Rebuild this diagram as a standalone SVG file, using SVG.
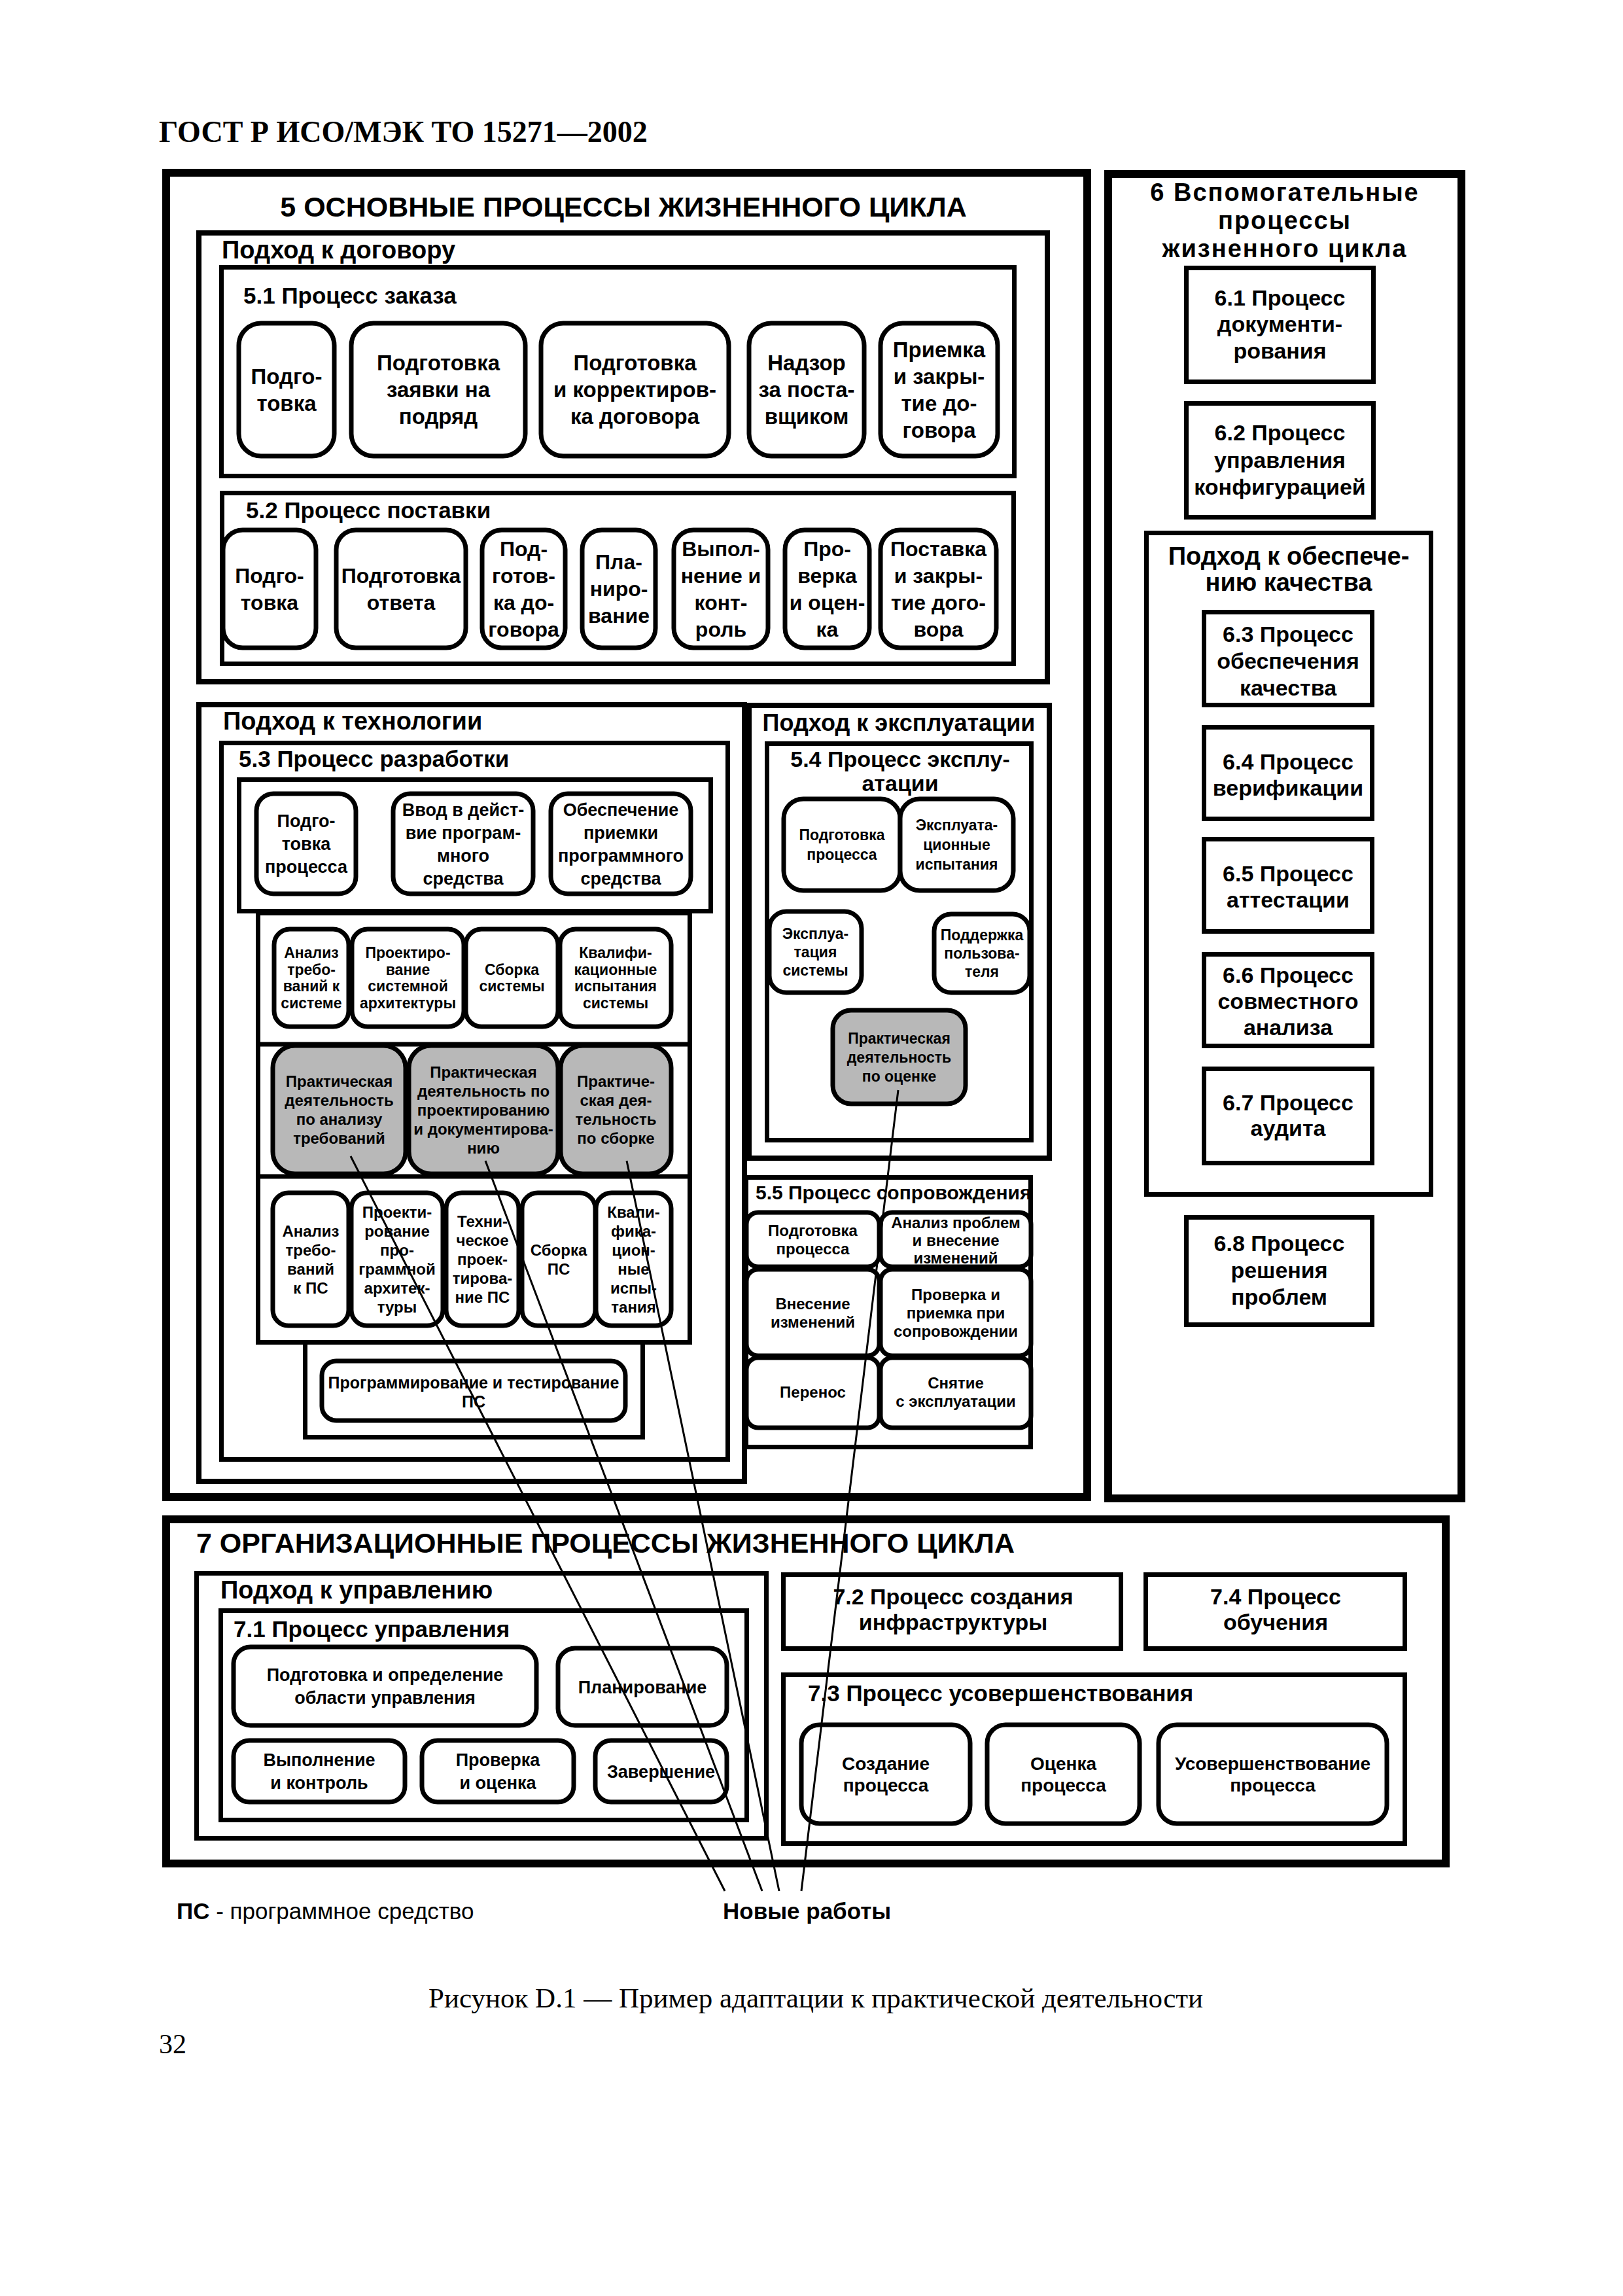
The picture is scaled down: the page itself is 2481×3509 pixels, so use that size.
<svg xmlns="http://www.w3.org/2000/svg" width="2481" height="3509" viewBox="0 0 2481 3509">
<style>
.fr{fill:none;stroke:#000}
.w12{stroke-width:12}
.w8{stroke-width:8}
.w7{stroke-width:7}
.n{fill:#fff;stroke:#000;stroke-width:7}
.g{fill:#b8b8b8;stroke:#000;stroke-width:7}
.conn line{stroke:#000;stroke-width:3}
text{font-family:"Liberation Sans",Arial,sans-serif;font-weight:bold;fill:#000}
.c{text-anchor:middle}
.serif{font-family:"Liberation Serif","Times New Roman",serif}
.reg{font-weight:normal}
.s43{font-size:43px}.s38{font-size:38px}.s36{font-size:36px}.s35{font-size:35px}.s34{font-size:34px}.s33{font-size:33px}.s32{font-size:32px}.s30{font-size:30px}.s28{font-size:28px}.s27{font-size:27px}.s25{font-size:25px}.s24{font-size:24px}.s23{font-size:23px}
.wide{letter-spacing:2px}
</style>
<rect width="2481" height="3509" fill="#fff"/>

<text id="header" class="serif" x="243" y="217" style="font-size:46px">ГОСТ Р ИСО/МЭК ТО 15271—2002</text>

<!-- Section 5 -->
<g id="sec5">
<rect class="fr w12" x="254" y="264" width="1408" height="2024"/>
<text class="c s43" x="953" y="331">5 ОСНОВНЫЕ ПРОЦЕССЫ ЖИЗНЕННОГО ЦИКЛА</text>
</g>

<g id="contract">
<rect class="fr w8" x="304" y="356" width="1297" height="686"/>
<text class="s38" x="339" y="395">Подход к договору</text>
</g>

<g id="p51">
<rect class="fr w7" x="338.5" y="408.5" width="1212" height="319"/>
<text class="s35" x="372" y="464">5.1 Процесс заказа</text>
</g>
<g id="n511"><rect class="n" x="365" y="494" width="146" height="203" rx="34"/>
<text class="c s33"><tspan x="438" y="587">Подго-</tspan><tspan x="438" y="628">товка</tspan></text></g>
<g id="n512"><rect class="n" x="537" y="494" width="266" height="203" rx="34"/>
<text class="c s33"><tspan x="670" y="566">Подготовка</tspan><tspan x="670" y="607">заявки на</tspan><tspan x="670" y="648">подряд</tspan></text></g>
<g id="n513"><rect class="n" x="827" y="494" width="287" height="203" rx="34"/>
<text class="c s33"><tspan x="970.5" y="566">Подготовка</tspan><tspan x="970.5" y="607">и корректиров-</tspan><tspan x="970.5" y="648">ка договора</tspan></text></g>
<g id="n514"><rect class="n" x="1145" y="494" width="176" height="203" rx="34"/>
<text class="c s33"><tspan x="1233" y="566">Надзор</tspan><tspan x="1233" y="607">за поста-</tspan><tspan x="1233" y="648">вщиком</tspan></text></g>
<g id="n515"><rect class="n" x="1346" y="494" width="179" height="203" rx="34"/>
<text class="c s33"><tspan x="1435.5" y="546">Приемка</tspan><tspan x="1435.5" y="587">и закры-</tspan><tspan x="1435.5" y="628">тие до-</tspan><tspan x="1435.5" y="669">говора</tspan></text></g>

<g id="p52">
<rect class="fr w7" x="339.5" y="753.5" width="1210" height="261"/>
<text class="s35" x="376" y="792">5.2 Процесс поставки</text>
</g>
<g id="n521"><rect class="n" x="341" y="810" width="142" height="180" rx="30"/>
<text class="c s32"><tspan x="412" y="891">Подго-</tspan><tspan x="412" y="932">товка</tspan></text></g>
<g id="n522"><rect class="n" x="514" y="810" width="198" height="180" rx="30"/>
<text class="c s32"><tspan x="613" y="891">Подготовка</tspan><tspan x="613" y="932">ответа</tspan></text></g>
<g id="n523"><rect class="n" x="737" y="810" width="127" height="180" rx="30"/>
<text class="c s32"><tspan x="800.5" y="850">Под-</tspan><tspan x="800.5" y="891">готов-</tspan><tspan x="800.5" y="932">ка до-</tspan><tspan x="800.5" y="973">говора</tspan></text></g>
<g id="n524"><rect class="n" x="890" y="810" width="112" height="180" rx="30"/>
<text class="c s32"><tspan x="946" y="870">Пла-</tspan><tspan x="946" y="911">ниро-</tspan><tspan x="946" y="952">вание</tspan></text></g>
<g id="n525"><rect class="n" x="1030" y="810" width="144" height="180" rx="30"/>
<text class="c s32"><tspan x="1102" y="850">Выпол-</tspan><tspan x="1102" y="891">нение и</tspan><tspan x="1102" y="932">конт-</tspan><tspan x="1102" y="973">роль</tspan></text></g>
<g id="n526"><rect class="n" x="1200" y="810" width="129" height="180" rx="30"/>
<text class="c s32"><tspan x="1264.5" y="850">Про-</tspan><tspan x="1264.5" y="891">верка</tspan><tspan x="1264.5" y="932">и оцен-</tspan><tspan x="1264.5" y="973">ка</tspan></text></g>
<g id="n527"><rect class="n" x="1346" y="810" width="177" height="180" rx="30"/>
<text class="c s32"><tspan x="1434.5" y="850">Поставка</tspan><tspan x="1434.5" y="891">и закры-</tspan><tspan x="1434.5" y="932">тие дого-</tspan><tspan x="1434.5" y="973">вора</tspan></text></g>

<!-- technology -->
<g id="tech">
<rect class="fr w8" x="304" y="1077" width="834" height="1187"/>
<text class="s38" x="341" y="1115">Подход к технологии</text>
</g>
<g id="p53">
<rect class="fr w7" x="338.5" y="1135.5" width="774" height="1095"/>
<text class="s35" x="365" y="1172">5.3 Процесс разработки</text>
<rect class="fr w7" x="365.5" y="1191.5" width="721" height="201"/>
<rect class="fr w7" x="394.5" y="1395.5" width="660" height="656"/>
<line x1="394.5" y1="1596" x2="1054.5" y2="1596" stroke="#000" stroke-width="7"/>
<line x1="394.5" y1="1798" x2="1054.5" y2="1798" stroke="#000" stroke-width="7"/>
<rect class="fr w7" x="466.5" y="2051.5" width="516" height="145"/>
</g>
<g id="n531"><rect class="n" x="392" y="1213" width="152" height="153" rx="26"/>
<text class="c s27"><tspan x="468" y="1264">Подго-</tspan><tspan x="468" y="1299">товка</tspan><tspan x="468" y="1334">процесса</tspan></text></g>
<g id="n532"><rect class="n" x="601" y="1213" width="214" height="153" rx="26"/>
<text class="c s27"><tspan x="708" y="1247">Ввод в дейст-</tspan><tspan x="708" y="1282">вие програм-</tspan><tspan x="708" y="1317">много</tspan><tspan x="708" y="1352">средства</tspan></text></g>
<g id="n533"><rect class="n" x="842" y="1213" width="214" height="153" rx="26"/>
<text class="c s27"><tspan x="949" y="1247">Обеспечение</tspan><tspan x="949" y="1282">приемки</tspan><tspan x="949" y="1317">программного</tspan><tspan x="949" y="1352">средства</tspan></text></g>

<g id="ns1"><rect class="n" x="419" y="1420" width="114" height="149" rx="24"/>
<text class="c s23"><tspan x="476" y="1464">Анализ</tspan><tspan x="476" y="1490">требо-</tspan><tspan x="476" y="1515">ваний к</tspan><tspan x="476" y="1541">системе</tspan></text></g>
<g id="ns2"><rect class="n" x="538" y="1420" width="171" height="149" rx="24"/>
<text class="c s23"><tspan x="623.5" y="1464">Проектиро-</tspan><tspan x="623.5" y="1490">вание</tspan><tspan x="623.5" y="1515">системной</tspan><tspan x="623.5" y="1541">архитектуры</tspan></text></g>
<g id="ns3"><rect class="n" x="712" y="1420" width="141" height="149" rx="24"/>
<text class="c s23"><tspan x="782.5" y="1490">Сборка</tspan><tspan x="782.5" y="1515">системы</tspan></text></g>
<g id="ns4"><rect class="n" x="856" y="1420" width="170" height="149" rx="24"/>
<text class="c s23"><tspan x="941" y="1464">Квалифи-</tspan><tspan x="941" y="1490">кационные</tspan><tspan x="941" y="1515">испытания</tspan><tspan x="941" y="1541">системы</tspan></text></g>

<g id="np1"><rect class="g" x="417" y="1598" width="203" height="196" rx="34"/>
<text class="c s24"><tspan x="518.5" y="1661">Практическая</tspan><tspan x="518.5" y="1690">деятельность</tspan><tspan x="518.5" y="1719">по анализу</tspan><tspan x="518.5" y="1748">требований</tspan></text></g>
<g id="np2"><rect class="g" x="625" y="1598" width="228" height="196" rx="34"/>
<text class="c s24"><tspan x="739" y="1647">Практическая</tspan><tspan x="739" y="1676">деятельность по</tspan><tspan x="739" y="1705">проектированию</tspan><tspan x="739" y="1734">и документирова-</tspan><tspan x="739" y="1763">нию</tspan></text></g>
<g id="np3"><rect class="g" x="857" y="1598" width="169" height="196" rx="34"/>
<text class="c s24"><tspan x="941.5" y="1661">Практиче-</tspan><tspan x="941.5" y="1690">ская дея-</tspan><tspan x="941.5" y="1719">тельность</tspan><tspan x="941.5" y="1748">по сборке</tspan></text></g>

<g id="nsw1"><rect class="n" x="417" y="1823" width="116" height="203" rx="24"/>
<text class="c s24"><tspan x="475" y="1890">Анализ</tspan><tspan x="475" y="1919">требо-</tspan><tspan x="475" y="1948">ваний</tspan><tspan x="475" y="1977">к ПС</tspan></text></g>
<g id="nsw2"><rect class="n" x="537" y="1823" width="140" height="203" rx="24"/>
<text class="c s24"><tspan x="607" y="1861">Проекти-</tspan><tspan x="607" y="1890">рование</tspan><tspan x="607" y="1919">про-</tspan><tspan x="607" y="1948">граммной</tspan><tspan x="607" y="1977">архитек-</tspan><tspan x="607" y="2006">туры</tspan></text></g>
<g id="nsw3"><rect class="n" x="682" y="1823" width="111" height="203" rx="24"/>
<text class="c s24"><tspan x="737.5" y="1875">Техни-</tspan><tspan x="737.5" y="1904">ческое</tspan><tspan x="737.5" y="1933">проек-</tspan><tspan x="737.5" y="1962">тирова-</tspan><tspan x="737.5" y="1991">ние ПС</tspan></text></g>
<g id="nsw4"><rect class="n" x="798" y="1823" width="112" height="203" rx="24"/>
<text class="c s24"><tspan x="854" y="1919">Сборка</tspan><tspan x="854" y="1948">ПС</tspan></text></g>
<g id="nsw5"><rect class="n" x="911" y="1823" width="115" height="203" rx="24"/>
<text class="c s24"><tspan x="968.5" y="1861">Квали-</tspan><tspan x="968.5" y="1890">фика-</tspan><tspan x="968.5" y="1919">цион-</tspan><tspan x="968.5" y="1948">ные</tspan><tspan x="968.5" y="1977">испы-</tspan><tspan x="968.5" y="2006">тания</tspan></text></g>

<g id="nprog"><rect class="n" x="492" y="2080" width="464" height="91" rx="22"/>
<text class="c s25"><tspan x="724" y="2122">Программирование и тестирование</tspan><tspan x="724" y="2151">ПС</tspan></text></g>

<!-- operation -->
<g id="oper">
<rect class="fr w8" x="1145" y="1078" width="459" height="692"/>
<text class="c s36" x="1374" y="1117">Подход к эксплуатации</text>
</g>
<g id="p54">
<rect class="fr w7" x="1172.5" y="1136.5" width="404" height="606"/>
<text class="c s34"><tspan x="1376" y="1172">5.4 Процесс эксплу-</tspan><tspan x="1376" y="1209">атации</tspan></text>
</g>
<g id="n541"><rect class="n" x="1198" y="1221" width="178" height="140" rx="30"/>
<text class="c s23"><tspan x="1287" y="1284">Подготовка</tspan><tspan x="1287" y="1314">процесса</tspan></text></g>
<g id="n542"><rect class="n" x="1376" y="1221" width="173" height="140" rx="30"/>
<text class="c s23"><tspan x="1462.5" y="1269">Эксплуата-</tspan><tspan x="1462.5" y="1299">ционные</tspan><tspan x="1462.5" y="1329">испытания</tspan></text></g>
<g id="n543"><rect class="n" x="1176" y="1393" width="141" height="124" rx="26"/>
<text class="c s23"><tspan x="1246.5" y="1435">Эксплуа-</tspan><tspan x="1246.5" y="1463">тация</tspan><tspan x="1246.5" y="1491">системы</tspan></text></g>
<g id="n544"><rect class="n" x="1428" y="1397" width="146" height="120" rx="26"/>
<text class="c s23"><tspan x="1501" y="1437">Поддержка</tspan><tspan x="1501" y="1465">пользова-</tspan><tspan x="1501" y="1493">теля</tspan></text></g>
<g id="n545"><rect class="g" x="1273" y="1544" width="203" height="143" rx="28"/>
<text class="c s23"><tspan x="1374.5" y="1595">Практическая</tspan><tspan x="1374.5" y="1624">деятельность</tspan><tspan x="1374.5" y="1653">по оценке</tspan></text></g>

<g id="p55">
<rect class="fr w7" x="1140.5" y="1799.5" width="435" height="412"/>
<text class="s30" x="1155" y="1833">5.5 Процесс сопровождения</text>
</g>
<g id="n551"><rect class="n" x="1141" y="1853" width="203" height="83" rx="18"/>
<text class="c s24"><tspan x="1242.5" y="1889">Подготовка</tspan><tspan x="1242.5" y="1917">процесса</tspan></text></g>
<g id="n552"><rect class="n" x="1346" y="1853" width="230" height="83" rx="18"/>
<text class="c s24"><tspan x="1461" y="1877">Анализ проблем</tspan><tspan x="1461" y="1904">и внесение</tspan><tspan x="1461" y="1931">изменений</tspan></text></g>
<g id="n553"><rect class="n" x="1141" y="1940" width="203" height="132" rx="18"/>
<text class="c s24"><tspan x="1242.5" y="2001">Внесение</tspan><tspan x="1242.5" y="2029">изменений</tspan></text></g>
<g id="n554"><rect class="n" x="1346" y="1940" width="230" height="132" rx="18"/>
<text class="c s24"><tspan x="1461" y="1987">Проверка и</tspan><tspan x="1461" y="2015">приемка при</tspan><tspan x="1461" y="2043">сопровождении</tspan></text></g>
<g id="n555"><rect class="n" x="1141" y="2075" width="203" height="107" rx="18"/>
<text class="c s24" x="1242.5" y="2136">Перенос</text></g>
<g id="n556"><rect class="n" x="1346" y="2075" width="230" height="107" rx="18"/>
<text class="c s24"><tspan x="1461" y="2122">Снятие</tspan><tspan x="1461" y="2150">с эксплуатации</tspan></text></g>

<!-- Section 6 -->
<g id="sec6">
<rect class="fr w12" x="1694" y="266" width="540" height="2024"/>
<text class="c s38 wide"><tspan x="1964" y="307">6 Вспомогательные</tspan><tspan x="1964" y="350">процессы</tspan><tspan x="1964" y="393">жизненного цикла</tspan></text>
</g>
<g id="b61"><rect class="fr w7" x="1813.5" y="409.5" width="286" height="174"/>
<text class="c s34"><tspan x="1956.5" y="467">6.1 Процесс</tspan><tspan x="1956.5" y="507">документи-</tspan><tspan x="1956.5" y="548">рования</tspan></text></g>
<g id="b62"><rect class="fr w7" x="1813.5" y="616.5" width="286" height="174"/>
<text class="c s34"><tspan x="1956.5" y="673">6.2 Процесс</tspan><tspan x="1956.5" y="715">управления</tspan><tspan x="1956.5" y="756">конфигурацией</tspan></text></g>
<g id="qual"><rect class="fr w7" x="1752.5" y="814.5" width="435" height="1011"/>
<text class="c s38"><tspan x="1970" y="863">Подход к обеспече-</tspan><tspan x="1970" y="903">нию качества</tspan></text></g>
<g id="b63"><rect class="fr w7" x="1840.5" y="935.5" width="257" height="142"/>
<text class="c s34"><tspan x="1969" y="981">6.3 Процесс</tspan><tspan x="1969" y="1022">обеспечения</tspan><tspan x="1969" y="1063">качества</tspan></text></g>
<g id="b64"><rect class="fr w7" x="1840.5" y="1111.5" width="257" height="140"/>
<text class="c s34"><tspan x="1969" y="1176">6.4 Процесс</tspan><tspan x="1969" y="1216">верификации</tspan></text></g>
<g id="b65"><rect class="fr w7" x="1840.5" y="1282.5" width="257" height="141"/>
<text class="c s34"><tspan x="1969" y="1347">6.5 Процесс</tspan><tspan x="1969" y="1387">аттестации</tspan></text></g>
<g id="b66"><rect class="fr w7" x="1840.5" y="1458.5" width="257" height="140"/>
<text class="c s34"><tspan x="1969" y="1502">6.6 Процесс</tspan><tspan x="1969" y="1542">совместного</tspan><tspan x="1969" y="1582">анализа</tspan></text></g>
<g id="b67"><rect class="fr w7" x="1840.5" y="1633.5" width="257" height="144"/>
<text class="c s34"><tspan x="1969" y="1697">6.7 Процесс</tspan><tspan x="1969" y="1736">аудита</tspan></text></g>
<g id="b68"><rect class="fr w7" x="1813.5" y="1860.5" width="284" height="164"/>
<text class="c s34"><tspan x="1955.5" y="1912">6.8 Процесс</tspan><tspan x="1955.5" y="1953">решения</tspan><tspan x="1955.5" y="1994">проблем</tspan></text></g>

<!-- Section 7 -->
<g id="sec7">
<rect class="fr w12" x="254" y="2322" width="1956" height="526"/>
<text class="s43" x="300" y="2373">7 ОРГАНИЗАЦИОННЫЕ ПРОЦЕССЫ ЖИЗНЕННОГО ЦИКЛА</text>
</g>
<g id="mgmt"><rect class="fr w7" x="300.5" y="2404.5" width="871" height="405"/>
<text class="s38" x="337" y="2443">Подход к управлению</text></g>
<g id="p71"><rect class="fr w7" x="337.5" y="2461.5" width="804" height="320"/>
<text class="s35" x="357" y="2502">7.1 Процесс управления</text></g>
<g id="n711"><rect class="n" x="357" y="2517" width="463" height="120" rx="26"/>
<text class="c s27"><tspan x="588.5" y="2569">Подготовка и определение</tspan><tspan x="588.5" y="2604">области управления</tspan></text></g>
<g id="n712"><rect class="n" x="853" y="2519" width="258" height="118" rx="26"/>
<text class="c s27" x="982" y="2588">Планирование</text></g>
<g id="n713"><rect class="n" x="357" y="2660" width="262" height="94" rx="24"/>
<text class="c s27"><tspan x="488" y="2699">Выполнение</tspan><tspan x="488" y="2734">и контроль</tspan></text></g>
<g id="n714"><rect class="n" x="645" y="2660" width="232" height="94" rx="24"/>
<text class="c s27"><tspan x="761" y="2699">Проверка</tspan><tspan x="761" y="2734">и оценка</tspan></text></g>
<g id="n715"><rect class="n" x="910" y="2660" width="201" height="94" rx="24"/>
<text class="c s27" x="1010.5" y="2717">Завершение</text></g>
<g id="b72"><rect class="fr w7" x="1197.5" y="2406.5" width="516" height="113"/>
<text class="c s34"><tspan x="1457" y="2452">7.2 Процесс создания</tspan><tspan x="1457" y="2491">инфраструктуры</tspan></text></g>
<g id="b74"><rect class="fr w7" x="1751.5" y="2406.5" width="396" height="113"/>
<text class="c s34"><tspan x="1950" y="2452">7.4 Процесс</tspan><tspan x="1950" y="2491">обучения</tspan></text></g>
<g id="p73"><rect class="fr w7" x="1197.5" y="2559.5" width="950" height="258"/>
<text class="s35" x="1235" y="2600">7.3 Процесс усовершенствования</text></g>
<g id="n731"><rect class="n" x="1225" y="2636" width="258" height="151" rx="28"/>
<text class="c s28"><tspan x="1354" y="2705">Создание</tspan><tspan x="1354" y="2738">процесса</tspan></text></g>
<g id="n732"><rect class="n" x="1509" y="2636" width="233" height="151" rx="28"/>
<text class="c s28"><tspan x="1625.5" y="2705">Оценка</tspan><tspan x="1625.5" y="2738">процесса</tspan></text></g>
<g id="n733"><rect class="n" x="1771" y="2636" width="349" height="151" rx="28"/>
<text class="c s28"><tspan x="1945.5" y="2705">Усовершенствование</tspan><tspan x="1945.5" y="2738">процесса</tspan></text></g>

<!-- connectors -->
<g id="connectors" class="conn">
<line x1="536" y1="1767" x2="1108" y2="2890"/>
<line x1="742" y1="1774" x2="1165" y2="2890"/>
<line x1="958" y1="1774" x2="1191" y2="2890"/>
<line x1="1373" y1="1666" x2="1225" y2="2890"/>
</g>

<!-- legend and caption -->
<text id="legend" class="s35" x="270" y="2933">ПС<tspan class="reg"> - программное средство</tspan></text>
<text id="newwork" class="s35" x="1105" y="2933">Новые работы</text>
<text id="caption" class="serif reg" x="655" y="3068" style="font-size:43px">Рисунок D.1 — Пример адаптации к практической деятельности</text>
<text id="pagenum" class="serif reg" x="243" y="3138" style="font-size:42px">32</text>
</svg>
